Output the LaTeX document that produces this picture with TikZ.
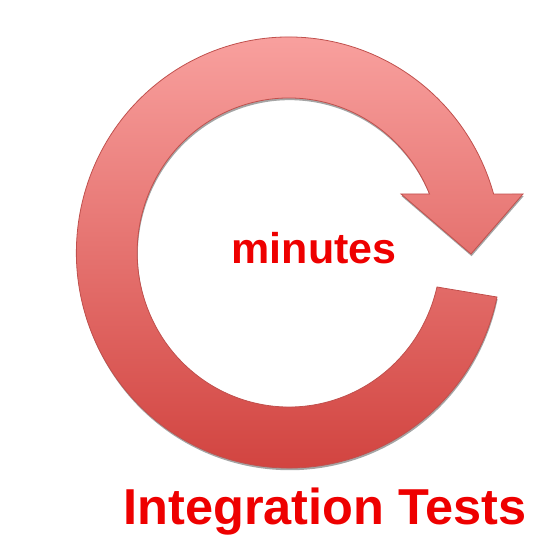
\documentclass[tikz,border=0pt]{standalone}
\usepackage{fontspec}
\setmainfont{Liberation Sans}
\definecolor{ringtop}{RGB}{250,164,162}
\definecolor{ringbottom}{RGB}{208,64,60}
\definecolor{ringedge}{RGB}{192,80,77}
\definecolor{labelred}{RGB}{238,0,0}
\definecolor{shadowgray}{RGB}{165,165,165}
\begin{document}
\begin{tikzpicture}[x=1pt,y=1pt,
  labeltext/.style={text=labelred,inner sep=0pt,anchor=base},
  ringfill/.style={top color=ringtop,bottom color=ringbottom,draw=ringedge,line width=0.8pt,line join=miter},
  ringshadow/.style={fill=shadowgray}]
\useasboundingbox (0,0) rectangle (552,550);
% soft drop shadow of the circular arrow
\begin{scope}[shift={(0.6,-2.2)}]
  \fill[ringshadow] (497.0,253.0)
    arc[start angle=-11.92,end angle=-344.25,x radius=212.6,y radius=215.5]
    -- (523,356) -- (471,296) -- (401,356) -- (429.5,356)
    arc[start angle=-337.75,end angle=-12.90,x radius=151.8,y radius=154.5]
    -- cycle;
\end{scope}
% circular arrow: ring sweeping clockwise into a downward head
\path[ringfill] (497.0,253.0)
  arc[start angle=-11.92,end angle=-344.25,x radius=212.6,y radius=215.5]
  -- (523,356) -- (471,296) -- (401,356) -- (429.5,356)
  arc[start angle=-337.75,end angle=-12.90,x radius=151.8,y radius=154.5]
  -- cycle;
\node[labeltext,font={\fontsize{43}{43}\selectfont\bfseries}] (minutes) at (314,286.7) {minutes};
\node[labeltext,font={\fontsize{50.5}{50.5}\selectfont\bfseries}] (title) at (325,26) {Integration Tests};
\end{tikzpicture}
\end{document}
